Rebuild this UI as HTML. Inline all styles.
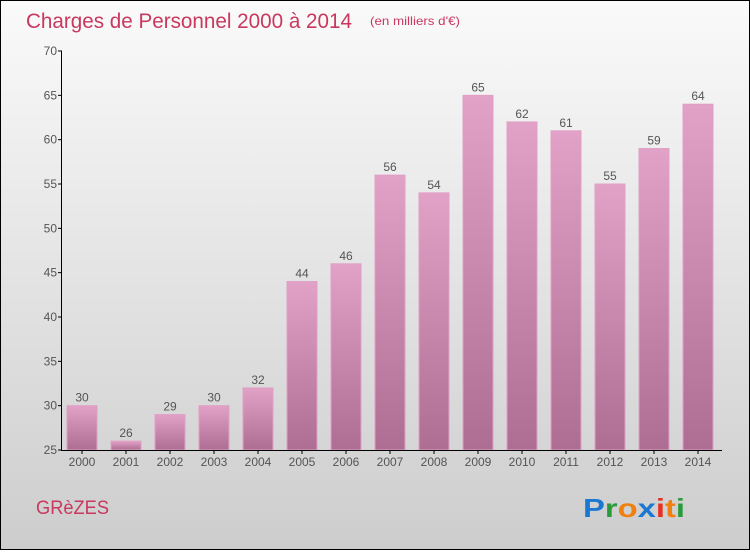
<!DOCTYPE html>
<html><head><meta charset="utf-8"><style>
body{margin:0;width:750px;height:550px;overflow:hidden;font-family:"Liberation Sans",sans-serif}
</style></head><body>
<svg width="750" height="550" xmlns="http://www.w3.org/2000/svg">
<defs>
<linearGradient id="bg" x1="0" y1="0" x2="0" y2="1"><stop offset="0" stop-color="#fafafa"/><stop offset="1" stop-color="#cdcdcd"/></linearGradient>
<linearGradient id="bar" x1="0" y1="0" x2="0" y2="1"><stop offset="0" stop-color="#e2a2c8"/><stop offset="1" stop-color="#ae6e93"/></linearGradient>
</defs>
<rect x="0.5" y="0.5" width="749" height="549" fill="url(#bg)" stroke="#000"/>
<text x="26" y="28" font-size="21" fill="#c8385f" textLength="326" lengthAdjust="spacingAndGlyphs">Charges de Personnel 2000 à 2014</text>
<text x="370" y="25" font-size="12" fill="#c8385f" textLength="90" lengthAdjust="spacingAndGlyphs">(en milliers d'€)</text>
<text x="36" y="514" font-size="19" fill="#c8385f" textLength="73" lengthAdjust="spacingAndGlyphs">GRèZES</text>
<text x="583" y="517" font-size="26" font-weight="bold" textLength="102" lengthAdjust="spacingAndGlyphs"><tspan fill="#1a78d2">P</tspan><tspan fill="#2a9a3a">r</tspan><tspan fill="#f08010">o</tspan><tspan fill="#1a78d2">x</tspan><tspan fill="#e83020">i</tspan><tspan fill="#f08010">t</tspan><tspan fill="#2a9a3a">i</tspan></text>
<g id="plot"></g>
</svg>
<script>
const categories=["2000","2001","2002","2003","2004","2005","2006","2007","2008","2009","2010","2011","2012","2013","2014"];
const values=[30,26,29,30,32,44,46,56,54,65,62,61,55,59,64];
const yTicks=[25,30,35,40,45,50,55,60,65,70];
const NS="http://www.w3.org/2000/svg";
const g=document.getElementById('plot');
const y=v=>450-(v-25)*(399/45);
const x=i=>82+i*44;
function el(t,a){const e=document.createElementNS(NS,t);for(const k in a)e.setAttribute(k,a[k]);g.appendChild(e);return e;}
values.forEach((v,i)=>{
 const r=el('rect',{x:x(i)-15,y:y(v),width:30,height:450-y(v),fill:'url(#bar)',stroke:'#e0a0c6','stroke-width':1});
 
 
 const t=el('text',{x:x(i),y:y(v)-4,'font-size':12,fill:'#555','text-anchor':'middle'});
 t.textContent=v;
 
 
 const c=el('text',{x:x(i),y:466,'font-size':12,fill:'#555','text-anchor':'middle'});
 c.textContent=categories[i];
 
 
 const tk=el('line',{x1:x(i),x2:x(i),y1:450,y2:454,stroke:'#000'});
 
 
});
yTicks.forEach(v=>{
 const l=el('line',{x1:58,x2:62,y1:y(v),y2:y(v),stroke:'#000'});
 
 
 const t=el('text',{x:57,y:y(v)+4,'font-size':12,fill:'#555','text-anchor':'end'});
 t.textContent=v;
 
 
});
const ya=el('line',{x1:61.5,x2:61.5,y1:y(70),y2:450,stroke:'#000'});


const xa=el('line',{x1:61,x2:722,y1:450.5,y2:450.5,stroke:'#000'});


</script>
</body></html>
